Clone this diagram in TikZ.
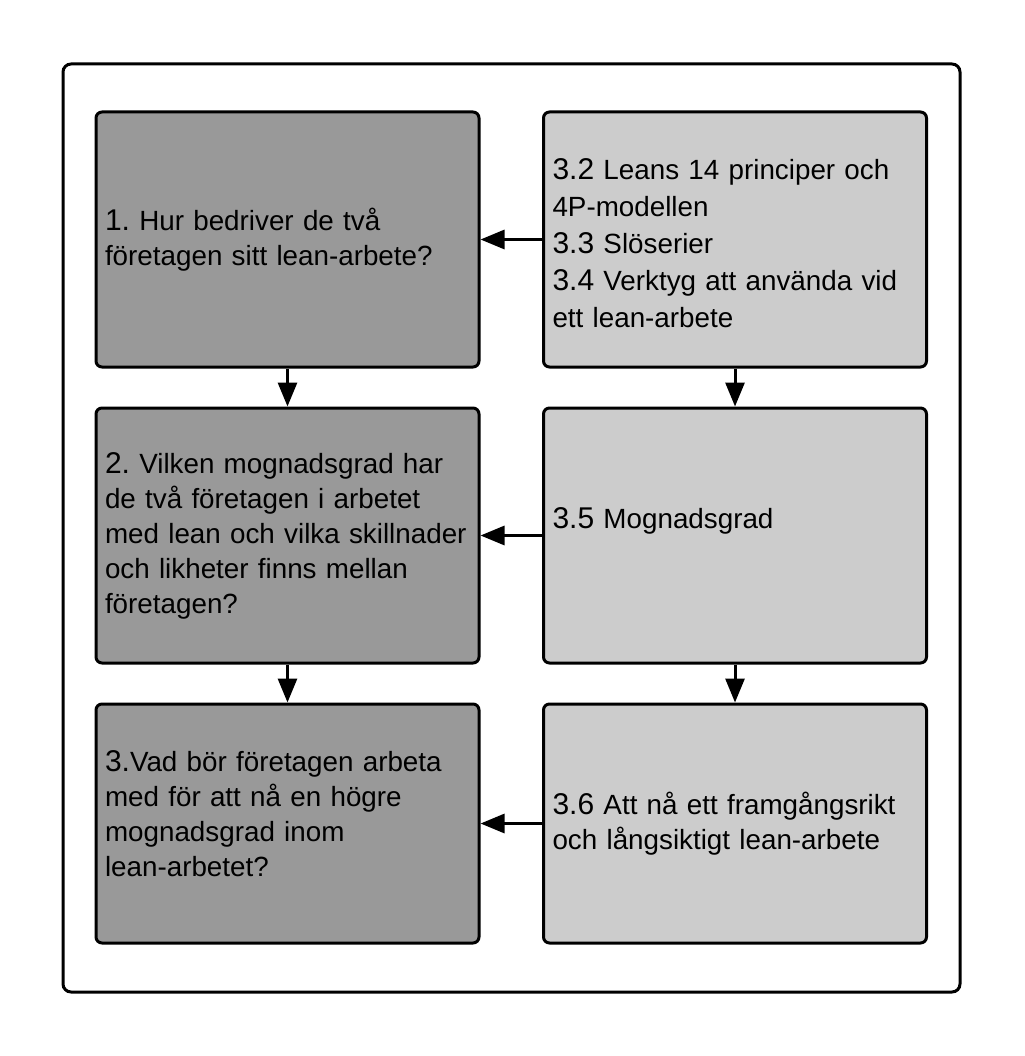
\documentclass[tikz,border=0pt]{standalone}
\usepackage{fontspec}
\setmainfont{Liberation Sans}
\usetikzlibrary{arrows.meta}
\frenchspacing
\hyphenpenalty=10000
\hbadness=10000
\hfuzz=20pt
\newcommand{\nr}[1]{{\fontsize{30}{35}\selectfont #1}}
\tikzset{
  box/.style={draw=black, line width=3pt, rounded corners=6pt, inner xsep=9pt,
    text width=365pt, align=left, minimum width=383pt,
    font=\fontsize{27.8}{35}\selectfont},
  darkbox/.style={box, fill=black!40},
  lightbox/.style={box, fill=black!20},
  arr/.style={line width=3pt, -{Triangle[length=24pt,width=19pt]}}
}
\begin{document}
\begin{tikzpicture}[x=1pt, y=-1pt]
\useasboundingbox (0,0) rectangle (1024,1056);
\draw[line width=3pt, rounded corners=8pt] (63,64) rectangle (960,992);
% questions
\node[darkbox, minimum height=255pt] (q1) at (287.5,239.5)
  {\nr{1.} Hur bedriver de två\\ företagen sitt lean-arbete?};
\node[darkbox, minimum height=255pt] (q2) at (287.5,535.5)
  {\nr{2.} Vilken mognadsgrad har\\ de två företagen i arbetet\\ med lean och vilka skillnader\\
   och likheter finns mellan\\ företagen?};
\node[darkbox, minimum height=239pt] (q3) at (287.5,823.5)
  {\nr{3.}Vad bör företagen arbeta\\ med för att nå en högre\\ mognadsgrad inom\\ lean-arbetet?\\[-15pt] \mbox{}};
% theory
\node[lightbox, minimum height=255pt] (t1) at (735,239.5)
  {\rule{0pt}{28pt}\nr{3.2} Leans 14 principer och\\[2pt] 4P-modellen\\[2pt]
   \nr{3.3} Slöserier\\[2pt]
   \nr{3.4} Verktyg att använda vid\\[2pt] ett lean-arbete};
\node[lightbox, minimum height=255pt] (t2) at (735,535.5)
  {\nr{3.5} Mognadsgrad\\ \mbox{}};
\node[lightbox, minimum height=239pt] (t3) at (735,823.5)
  {\nr{3.6} Att nå ett framgångsrikt\\ och långsiktigt lean-arbete};
% arrows
\draw[arr] (q1) -- (q2);
\draw[arr] (q2) -- (q3);
\draw[arr] (t1) -- (t2);
\draw[arr] (t2) -- (t3);
\draw[arr] (t1) -- (q1);
\draw[arr] (t2) -- (q2);
\draw[arr] (t3) -- (q3);
\end{tikzpicture}
\end{document}
